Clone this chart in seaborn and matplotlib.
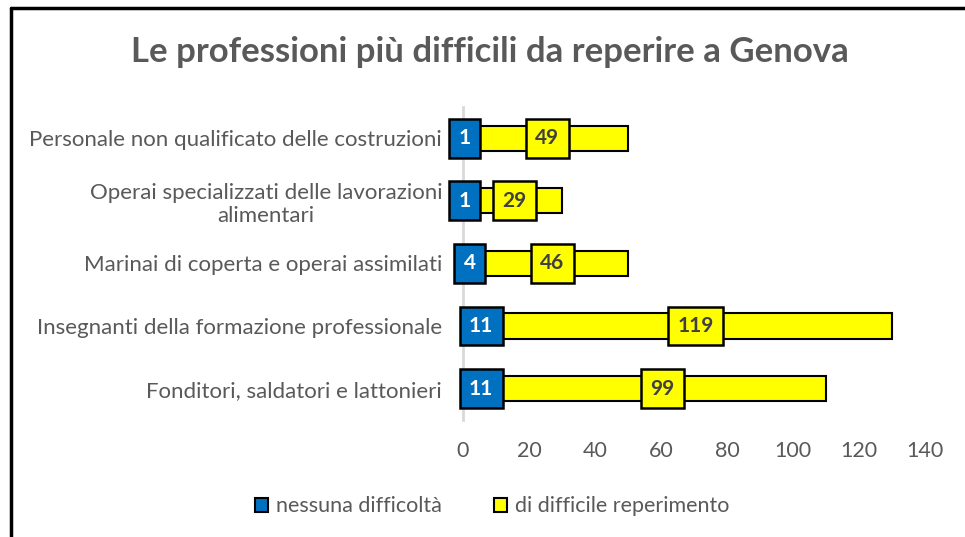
import matplotlib
matplotlib.use("Agg")
import matplotlib.pyplot as plt
from matplotlib.patches import Patch
import seaborn as sns
import pandas as pd

# Data
categories = [
    "Personale non qualificato delle costruzioni",
    "Operai specializzati delle lavorazioni\nalimentari",
    "Marinai di coperta e operai assimilati",
    "Insegnanti della formazione professionale",
    "Fonditori, saldatori e lattonieri",
]
nessuna = [1, 1, 4, 11, 11]
difficile = [49, 29, 46, 119, 99]
series_names = ["nessuna difficoltà", "di difficile reperimento"]
xticks = [0, 20, 40, 60, 80, 100, 120, 140]

BLUE = "#0070C0"
YELLOW = "#FFFF00"
GREY = "#595959"

sns.set_style("white")
plt.rcParams["font.family"] = ["Lato", "DejaVu Sans"]

df = pd.DataFrame({"cat": categories, "blue": nessuna, "yellow": difficile})
df["total"] = df["blue"] + df["yellow"]

fig = plt.figure(figsize=(9.65, 5.37), dpi=100)
ax = fig.add_axes([0.4798, 0.218, 0.4787, 0.583])

# stacked bars: total in yellow, blue part drawn over it
sns.barplot(data=df, x="total", y="cat", orient="h", color=YELLOW,
            edgecolor="black", linewidth=1.5, width=0.4, ax=ax, saturation=1)
sns.barplot(data=df, x="blue", y="cat", orient="h", color=BLUE,
            edgecolor="black", linewidth=1.5, width=0.4, ax=ax, saturation=1)

# value labels in boxes
for i, row in df.iterrows():
    ax.text(row["blue"] / 2, i, str(row["blue"]), ha="center", va="center",
            color="white", fontsize=15, fontweight="bold", zorder=5,
            bbox=dict(boxstyle="square,pad=0.45", fc=BLUE, ec="black", lw=1.8))
    ax.text(row["blue"] + row["yellow"] / 2, i, str(row["yellow"]),
            ha="center", va="center", color="#404040", fontsize=15,
            fontweight="bold", zorder=5,
            bbox=dict(boxstyle="square,pad=0.45", fc=YELLOW, ec="black", lw=1.8))

ax.set_xlim(0, 140)
ax.set_xticks(xticks)
ax.set_xlabel("")
ax.set_ylabel("")
for s in ["top", "right", "bottom"]:
    ax.spines[s].set_visible(False)
ax.spines["left"].set_color("#D9D9D9")
ax.spines["left"].set_linewidth(2)
ax.tick_params(axis="x", length=0, pad=15, labelsize=15.5, labelcolor=GREY)
ax.tick_params(axis="y", length=0, pad=15, labelsize=16, labelcolor=GREY)
for lab in ax.get_yticklabels():
    lab.set_multialignment("center")

fig.text(0.508, 0.903, "Le professioni più difficili da reperire a Genova",
         ha="center", va="center", fontsize=25, fontweight="bold", color=GREY)

handles = [Patch(fc=BLUE, ec="black", lw=1.5), Patch(fc=YELLOW, ec="black", lw=1.5)]
fig.legend(handles, series_names, loc="center", bbox_to_anchor=(0.51, 0.057),
           ncol=2, frameon=False, fontsize=15.5, labelcolor=GREY,
           handlelength=0.6, handleheight=0.6, handletextpad=0.4,
           columnspacing=2.4)

# frame lines at top and left of the image
fig.add_artist(plt.Line2D([0.0115, 1], [0.985, 0.985], color="black", lw=2.5,
                          transform=fig.transFigure))
fig.add_artist(plt.Line2D([0.0115, 0.0115], [0, 0.985], color="black", lw=2.5,
                          transform=fig.transFigure))

fig.savefig("out.png", dpi=100)
